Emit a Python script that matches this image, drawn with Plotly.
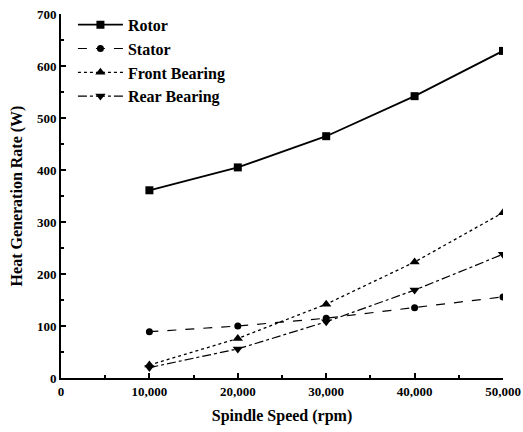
import plotly.graph_objects as go

speed = [10000, 20000, 30000, 40000, 50000]
rotor = [361, 405, 465, 542, 629]
stator = [89, 100, 115, 135, 156]
front_bearing = [25, 76, 142, 223, 318]
rear_bearing = [20, 56, 108, 169, 238]

FONT = "Liberation Serif"

series = [
    ("Rotor", rotor, "solid", "square", 8, 1.8),
    ("Stator", stator, "dash", "circle", 7, 1.2),
    ("Front Bearing", front_bearing, "dot", "triangle-up", 9, 1.3),
    ("Rear Bearing", rear_bearing, "dashdot", "triangle-down", 9, 1.2),
]

fig = go.Figure()
for name, vals, dash, sym, size, lw in series:
    fig.add_trace(go.Scatter(
        x=speed, y=vals, name=name, mode="lines+markers",
        line=dict(color="black", dash=dash, width=lw),
        marker=dict(symbol=sym, size=size, color="black"),
    ))

fig.update_layout(
    width=523, height=432,
    margin=dict(l=61, r=20, t=14, b=54, autoexpand=False),
    plot_bgcolor="white", paper_bgcolor="white",
    font=dict(family=FONT, color="black", size=13),
    showlegend=True,
    legend=dict(
        x=0.027, y=0.982, xanchor="left", yanchor="top", yref="container",
        font=dict(family=FONT, size=16, color="black", weight="bold"),
        bgcolor="rgba(0,0,0,0)", tracegroupgap=0, itemwidth=45,
    ),
)
fig.update_xaxes(
    range=[0, 50000], tickvals=[0, 10000, 20000, 30000, 40000, 50000],
    ticktext=["0", "10,000", "20,000", "30,000", "40,000", "50,000"],
    showline=True, linecolor="black", linewidth=2, mirror=False,
    ticks="inside", ticklen=5, tickwidth=1.5, tickcolor="black",
    minor=dict(ticks="inside", ticklen=3, tickcolor="black", dtick=5000, tick0=0),
    showgrid=False, zeroline=False, automargin=False,
    tickfont=dict(family=FONT, size=13, weight="bold"),
    title=dict(text="Spindle Speed (rpm)", font=dict(family=FONT, size=16, weight="bold"), standoff=12),
)
fig.update_yaxes(
    range=[0, 700], dtick=100, tick0=0,
    showline=True, linecolor="black", linewidth=2, mirror=False,
    ticks="inside", ticklen=5, tickwidth=1.5, tickcolor="black",
    minor=dict(ticks="inside", ticklen=3, tickcolor="black", dtick=50, tick0=0),
    showgrid=False, zeroline=False, automargin=False,
    tickfont=dict(family=FONT, size=13, weight="bold"),
    title=dict(text="Heat Generation Rate (W)", font=dict(family=FONT, size=16, weight="bold"), standoff=10),
)

fig.write_html("out.html")
